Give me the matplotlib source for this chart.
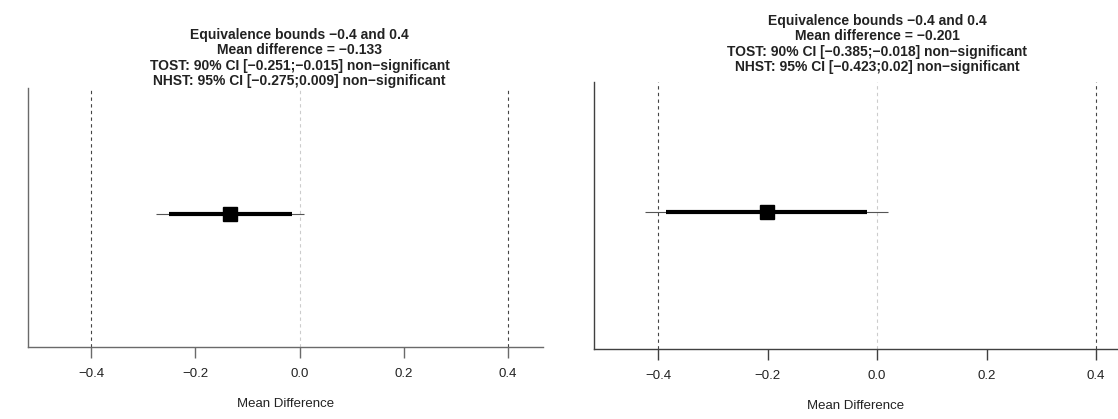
import matplotlib.pyplot as plt
import matplotlib.transforms as mtransforms

plt.rcParams['font.family'] = ['Liberation Sans', 'DejaVu Sans']

# Data
bounds = [-0.4, 0.4]
ticks = [-0.4, -0.2, 0.0, 0.2, 0.4]
tick_labels = ["\u22120.4", "\u22120.2", "0.0", "0.2", "0.4"]

mean_diff = [-0.133, -0.201]
ci90_low = [-0.251, -0.385]
ci90_high = [-0.015, -0.018]
ci95_low = [-0.275, -0.423]
ci95_high = [0.009, 0.02]

titles = [
    "Equivalence bounds \u22120.4 and 0.4\nMean difference = \u22120.133\n"
    "TOST: 90% CI [\u22120.251;\u22120.015] non\u2212significant\n"
    "NHST: 95% CI [\u22120.275;0.009] non\u2212significant",
    "Equivalence bounds \u22120.4 and 0.4\nMean difference = \u22120.201\n"
    "TOST: 90% CI [\u22120.385;\u22120.018] non\u2212significant\n"
    "NHST: 95% CI [\u22120.423;0.02] non\u2212significant",
]

W, H = 1118, 419
fig = plt.figure(figsize=(W / 100, H / 100), dpi=100)

# axes boxes in pixels: left, bottom(from top), right, top
boxes = [(28, 347, 543, 88), (594, 349, 1118, 82)]
xlims = [(-0.521, 0.467), (-0.517, 0.44)]
title_y = [88, 74]
axis_col = ["#6a6a6a", "#404040"]

for i in range(2):
    l, b, r, t = boxes[i]
    ax = fig.add_axes([l / W, (H - b) / H, (r - l) / W, (b - t) / H])
    ax.set_xlim(*xlims[i])
    ax.set_ylim(-0.05, 2)

    for bd in bounds:
        ax.axvline(bd, color="#444444", ls=(0, (3, 3)), lw=0.8)
    ax.axvline(0, color="#cccccc", ls=(0, (3, 3)), lw=0.8)

    ax.plot([ci95_low[i], ci95_high[i]], [1, 1], color="#555555", lw=0.8,
            solid_capstyle="butt")
    ax.plot([ci90_low[i], ci90_high[i]], [1, 1], color="black", lw=3,
            solid_capstyle="butt")
    ax.plot(mean_diff[i], 1, marker="s", color="black", markersize=9.5)

    for s in ["top", "right"]:
        ax.spines[s].set_visible(False)
    for s in ["left", "bottom"]:
        ax.spines[s].set_color(axis_col[i])
        ax.spines[s].set_linewidth(1)
    ax.set_yticks([])
    ax.set_xticks(ticks)
    ax.set_xticklabels(tick_labels, fontsize=9.5, color="#222222")
    ax.tick_params(axis="x", length=8, width=1, color=axis_col[i], pad=7)
    ax.set_xlabel("Mean Difference", fontsize=9.5, color="#222222", labelpad=13)

    trans = mtransforms.blended_transform_factory(ax.transData, fig.transFigure)
    ax.text(0, (H - title_y[i]) / H, titles[i], transform=trans, ha="center",
            va="bottom", fontsize=10, fontweight="bold", color="#222222",
            linespacing=1.12, clip_on=False)

plt.savefig("out.png", dpi=100)
